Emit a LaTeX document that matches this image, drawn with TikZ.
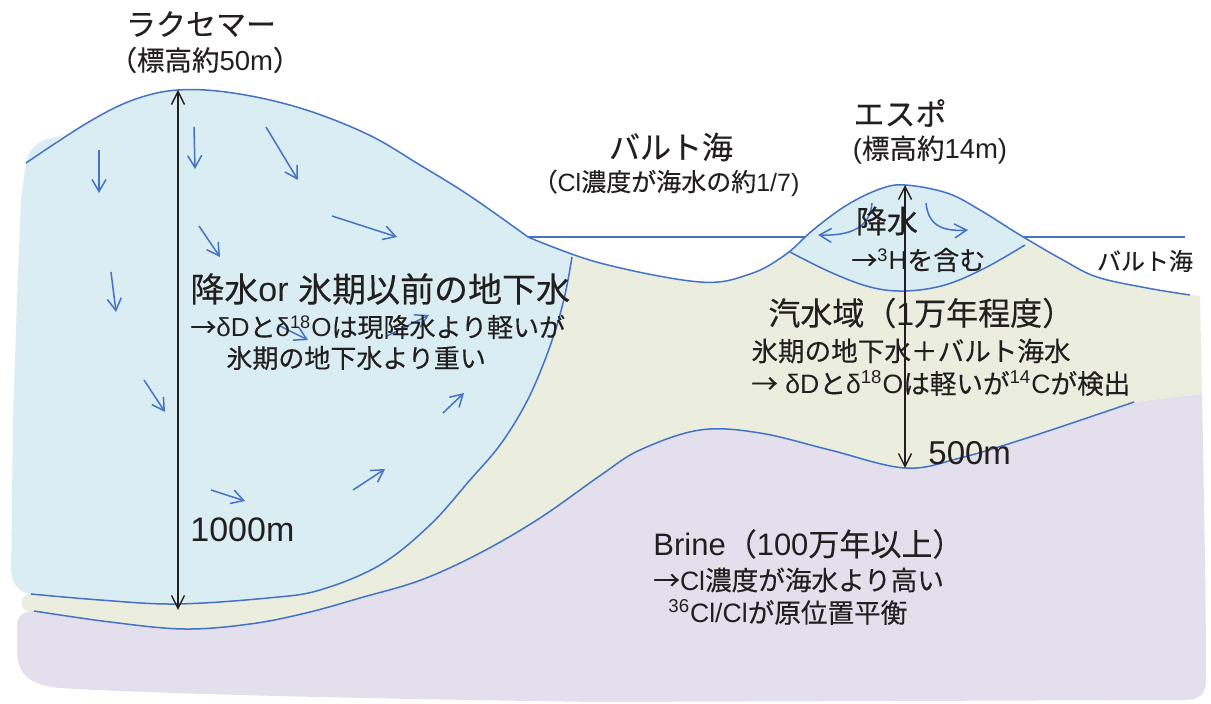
\documentclass[tikz,border=0pt]{standalone}
\usepackage{fontspec}
\setmainfont{Liberation Sans}
\newfontfamily\jp{Noto Sans CJK JP}[FakeBold=0.3]
\usetikzlibrary{arrows.meta}

\definecolor{inkblue}{RGB}{68,114,196}
\definecolor{freshfill}{RGB}{218,237,243}
\definecolor{brackfill}{RGB}{235,238,223}
\definecolor{brinefill}{RGB}{228,223,236}
\definecolor{ink}{RGB}{35,31,32}

\newcommand\txtsize[1]{\fontsize{#1}{#1}\selectfont}
\newcommand\lat[1]{{\rmfamily #1}}

\tikzset{
  lbl/.style={inner sep=0pt, text=ink, font={\jp\txtsize{#1}}},
  bound/.style={inkblue, line width=0.75pt},
  flow/.style={inkblue, line width=0.75pt, -{Straight Barb[length=6pt,width=7pt]}},
  depth/.style={ink, line width=0.7pt,
    {Straight Barb[length=6.5pt,width=6.5pt]}-{Straight Barb[length=6.5pt,width=6.5pt]}},
}

\begin{document}
\begin{tikzpicture}[x=0.5pt,y=-0.5pt]
\useasboundingbox (0,0) rectangle (1211,704);

% ---------- brine (deepest layer)
\fill[brinefill] plot[smooth, tension=0.6] coordinates {(34,611) (110,622) (184,629) (250,624) (306,613) (360,598) (421,580) (480,553) (540,518) (601,475) (640,450) (700,430) (760,433) (830,450) (905,468) (960,458) (1030,437) (1134,402)}
  -- (1165,398) -- (1202,394) .. controls (1204,500) and (1206,600) .. (1206,680)
  .. controls (1206,695) and (1198,700) .. (1185,700) -- (600,702)
  .. controls (300,698) and (120,692) .. (60,688)
  .. controls (25,685) and (17,670) .. (17,650) -- (17,625)
  .. controls (17,615) and (25,611) .. (34,611) -- cycle;

% ---------- brackish zone
\fill[brackfill] (24,597) -- (528,237)
  -- plot[smooth, tension=0.6] coordinates {(528,237) (600,263) (700,282) (750,274) (785,255) (813,230) (847,205) (880,189) (905,185) (947,193) (980,210) (1020,235) (1063,260) (1097,277) (1147,288) (1190,295)}
  -- (1200,296) -- (1202,394) -- (1134,402)
  -- plot[smooth, tension=0.6] coordinates {(1134,402) (1030,437) (960,458) (905,468) (830,450) (760,433) (700,430) (640,450) (601,475) (540,518) (480,553) (421,580) (360,598) (306,613) (250,624) (184,629) (110,622) (34,611)}
  -- (28,611) .. controls (20,609) and (20,599) .. (24,597) -- cycle;

% ---------- fresh groundwater below the hill
\fill[freshfill] plot[smooth, tension=0.6] coordinates {(26,163) (87,123) (133,100) (178,90) (233,93) (300,108) (367,134) (420,165) (470,196) (528,237)}
  -- (572,253)
  -- plot[smooth, tension=0.6] coordinates {(572,257) (566,290) (557,325) (543,365) (525,405) (500,445) (470,480) (430,525) (380,565) (320,590) (268,598) (176,604) (100,600) (31,594)}
  .. controls (20,593) and (12,585) .. (11,570) -- (13,420) -- (17,300) -- (21,200) -- (26,163) -- cycle;
\fill[freshfill] (26,163) .. controls (28,152) and (35,142) .. (48,139)
  .. controls (56,137) .. (64,135) -- cycle;

% ---------- fresh lens below Espoo
\fill[freshfill] plot[smooth, tension=0.6] coordinates {(790,252) (813,230) (847,205) (880,189) (905,185) (947,193) (980,210) (1023,238)}
  -- (1025,245)
  -- plot[smooth, tension=0.6] coordinates {(1025,245) (985,268) (945,285) (905,291) (870,287) (830,272) (790,252)} -- cycle;

% ---------- boundaries
\draw[bound] plot[smooth, tension=0.6] coordinates {(26,163) (87,123) (133,100) (178,90) (233,93) (300,108) (367,134) (420,165) (470,196) (528,237)};
\draw[bound] plot[smooth, tension=0.6] coordinates {(528,237) (600,263) (700,282) (750,274) (785,255) (813,230) (847,205) (880,189) (905,185) (947,193) (980,210) (1020,235) (1063,260) (1097,277) (1147,288) (1190,295)};
\coordinate (seaW) at (528,237);
\coordinate (hillW) at (806,237);
\coordinate (hillE) at (1023,237);
\coordinate (seaE) at (1185,237);
\draw[bound] (seaW) -- (hillW);
\draw[bound] (hillE) -- (seaE);
\draw[bound] plot[smooth, tension=0.6] coordinates {(790,252) (830,272) (870,287) (905,291) (945,285) (985,268) (1025,245)};
\draw[bound] plot[smooth, tension=0.6] coordinates {(572,257) (566,290) (557,325) (543,365) (525,405) (500,445) (470,480) (430,525) (380,565) (320,590) (268,598) (176,604) (100,600) (31,594)};
\draw[bound] plot[smooth, tension=0.6] coordinates {(34,611) (110,622) (184,629) (250,624) (306,613) (360,598) (421,580) (480,553) (540,518) (601,475) (640,450) (700,430) (760,433) (830,450) (905,468) (960,458) (1030,437) (1134,402)};

% ---------- flow arrows
\draw[flow] (99,150) -- (99,193);
\draw[flow] (194,127) -- (195,169);
\draw[flow] (266,127) -- (298,180);
\draw[flow] (332,216) -- (397,237);
\draw[flow] (199,226) -- (220,257);
\draw[flow] (111,272) -- (116,312);
\draw[flow] (144,380) -- (165,412);
\draw[flow] (278,325) -- (308,340);
\draw[flow] (387,336) -- (429,315);
\draw[flow] (443,413) -- (464,393);
\draw[flow] (211,490) -- (245,501);
\draw[flow] (353,490) -- (385,469);
\draw[flow] (872,203) .. controls (870,228) and (850,236) .. (818,235);
\draw[flow] (926,203) .. controls (928,222) and (938,232) .. (968,230);

% ---------- labels
\node[lbl=15pt] (lakse) at (201,24) {ラクセマー};
\node[lbl=13.75pt] (lakseh) at (205,60) {（標高約\lat{50m}）};
\node[lbl=15.5pt] (baltic) at (671,147) {バルト海};
\node[lbl=12.5pt] (balticcl) at (666,183) {（\lat{Cl}濃度が海水の約\lat{1/7)}};
\node[lbl=15.5pt] (espoo) at (900,113) {エスポ};
\node[lbl=13.75pt] (espooh) at (930,150) {\lat{(}標高約\lat{14m)}};
\node[lbl=15.5pt] (rain) at (887,221) {降水};
\node[lbl=13pt, anchor=west] (tritium) at (851,260) {→\lat{\textsuperscript{3}H}を含む};
\node[lbl=12pt] (balticr) at (1145,261) {バルト海};

\node[lbl=17pt, anchor=west] (fresh) at (190,289) {降水\lat{or }氷期以前の地下水};
\node[lbl=13pt, anchor=west] (fresha) at (190,327) {→\lat{δD}と\lat{δ\textsuperscript{18}O}は現降水より軽いが};
\node[lbl=13pt, anchor=west] (freshb) at (226,358) {氷期の地下水より重い};

\node[lbl=16pt, anchor=west] (brack) at (768,313) {汽水域（\lat{1}万年程度）};
\node[lbl=13.3pt, anchor=west] (bracka) at (751,351) {氷期の地下水＋バルト海水};
\node[lbl=13.3pt, anchor=west] (brackb) at (751,383) {→\lat{\ δD}と\lat{δ\textsuperscript{18}O}は軽いが\lat{\textsuperscript{14}C}が検出};

\node[lbl=16.5pt, anchor=west] (d500) at (928,453) {\lat{500m}};
\node[lbl=17pt, anchor=west] (d1000) at (190,530) {\lat{1000m}};

\node[lbl=15.5pt, anchor=west] (brine) at (653,544) {\lat{Brine}（\lat{100}万年以上）};
\node[lbl=13.3pt, anchor=west] (brinea) at (653,580) {→\lat{Cl}濃度が海水より高い};
\node[lbl=13.3pt, anchor=west] (brineb) at (668,612) {\lat{\textsuperscript{36}Cl/Cl}が原位置平衡};

% ---------- depth markers
\coordinate (laksetop) at (178,90);
\coordinate (laksebot) at (178,610);
\coordinate (espootop) at (905,185);
\coordinate (espoobot) at (905,468);
\draw[depth] (laksetop) -- (laksebot);
\draw[depth] (espootop) -- (espoobot);
\end{tikzpicture}
\end{document}
